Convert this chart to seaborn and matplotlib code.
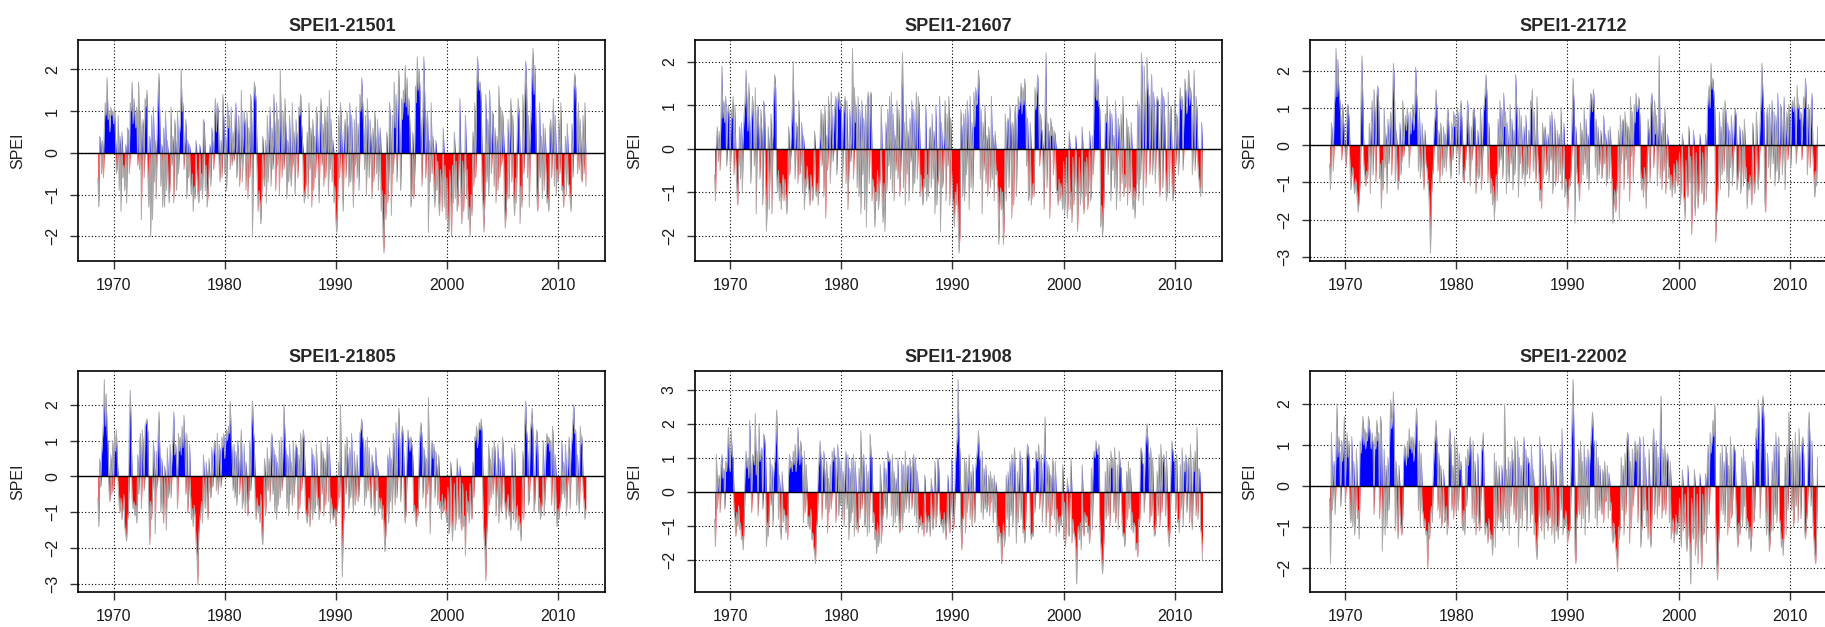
import numpy as np
import matplotlib
matplotlib.use('Agg')
import matplotlib.pyplot as plt
from matplotlib.ticker import MultipleLocator
import seaborn as sns

sns.set_theme(style='white')
plt.rcParams['font.family'] = ['Liberation Sans', 'DejaVu Sans']

# monthly SPEI-1 values (x10), Aug 1968 - Jul 2012
titles = ['SPEI1-21501', 'SPEI1-21607', 'SPEI1-21712',
          'SPEI1-21805', 'SPEI1-21908', 'SPEI1-22002']
start_year = 1968
start_month = 8

spei_21501 = [
    -6, -13, 4, 3, -5,
    3, -6, 6, 12, 9, 18, 8, 10, 5, 11, 9, 10,
    7, 11, 4, -5, -3, 9, -9, 4, -14, 5, -6, -3,
    -9, 2, -12, 6, 5, -5, 12, 10, 17, 7, 13, 9,
    6, 11, -3, 17, -4, 10, -16, 6, 8, -6, 13, 11,
    15, -5, -13, 4, -20, 9, -16, 11, -7, 3, -11, 5,
    14, 19, 7, -8, 2, -13, 6, -13, 10, -9, 3, -8,
    -12, -7, 11, -3, 4, -12, 8, 3, -9, 10, -5, 4,
    7, 20, 10, 12, -4, 3, 8, -11, 3, -6, 2, -7,
    -10, -5, -14, -8, -11, 3, -6, -10, -12, 2, -9, -5,
    -11, 8, 7, -9, -3, -13, -10, -4, 2, -8, 6, 3,
    -4, 9, 13, 5, 12, 10, -3, -7, 3, -6, 14, 8,
    -5, 4, -9, 12, 6, 9, -4, 11, -3, 5, -2, 8,
    12, -6, 5, 9, -8, -3, 15, -7, 4, 10, 7, -9,
    10, -11, 6, -6, 14, 9, -20, 11, 17, 15, 12, -5,
    -14, -9, -12, -17, -10, 4, -6, -8, 3, -12, 9, -7,
    5, 11, -8, 6, -4, 14, 7, -9, 12, -3, 8, -10,
    20, 5, -6, 10, -4, 13, 6, -11, 3, -7, 9, -5,
    -8, 12, -3, 5, -10, 8, 4, -6, 11, 9, 14, 7,
    3, -8, -12, -9, -7, 5, -11, 12, -4, 6, -13, 8,
    -9, 4, -6, 11, 8, -5, -12, 9, 13, -3, 7, -8,
    10, -6, 7, 11, -10, 15, -4, 8, -7, 3, -12, -8,
    -16, -19, -11, 9, -6, 12, 7, -9, -14, 5, 8, -6,
    10, 6, -8, 12, -7, 9, -5, -13, 8, -3, 11, -6,
    7, -9, 14, 10, 18, 12, 6, -4, 9, -10, 13, 5,
    -6, 8, 3, -11, 6, -7, 10, 4, -5, 8, -9, 3,
    6, -14, -9, -20, -24, -10, -16, 5, -12, -8, 12, 7,
    -15, 9, -5, 17, 6, 14, -7, 11, 20, 6, -9, 13,
    8, 15, 12, 21, 11, 18, 9, 13, 6, -13, -10, 5,
    -11, -7, 16, 12, 23, 15, 20, 14, 5, -8, 9, 23,
    14, -6, 7, 10, -19, 3, -7, 12, -5, 4, -8, -13,
    3, -9, -2, -12, -15, -4, -8, -14, 6, -13, -3, -16,
    -6, -17, -19, -4, -11, -20, -3, -12, 5, -11, -2, -14,
    -12, -3, 13, -10, -17, -2, -14, -6, 9, -11, -4, -16,
    -13, -20, -10, -15, 5, -8, 12, -6, 14, 23, 18, 15,
    17, 12, -9, -13, -19, -11, 14, -7, 8, -10, 15, 6,
    -5, 10, 9, -8, 6, -12, 4, -9, 16, -6, 11, -3,
    10, 6, -12, -18, -14, -9, 8, -11, 5, 13, -7, 9,
    -10, -15, -6, -12, 6, 13, 9, -17, -8, -13, 14, -5,
    13, 22, 17, -6, 9, -13, 4, 11, 20, 25, 14, 21,
    8, -10, -14, -7, 12, -6, 4, -11, 7, -9, 6, -5,
    -12, -11, -14, 6, 8, -6, 5, 13, -8, 9, -10, -4,
    -7, 8, -5, 12, -9, -8, -13, -6, 4, -10, 7, -7,
    -8, -11, -14, 7, -6, 15, 19, 16, 11, -5, 12, -4,
    8, -6, -7, 9, -5, 12, -8,
]

spei_21607 = [
    -6, -12, 2, 5, -3,
    4, -5, 8, 19, 7, 11, 6, 12, -4, 8, 10, 6,
    -5, 9, 7, 12, -6, 10, -3, -9, -13, -4, 5, -7,
    6, -10, 3, 8, 11, 18, 10, 4, 15, 6, -8, 7,
    12, 6, -4, 14, -15, 8, 10, 3, -7, 9, 4, -13,
    11, 9, -6, -19, -11, 5, -14, -4, 8, -15, 3, 12,
    17, 14, -6, -10, -5, -12, -8, -14, -9, -6, -12, -7,
    -11, -15, -9, 5, -6, -3, 4, 10, 20, 3, -7, 6,
    5, -8, 11, -6, -4, 6, -10, 3, -14, -7, -9, -4,
    -8, -10, -13, -6, -9, -12, -7, 4, -10, -11, -8, -13,
    -6, 3, 9, -4, 8, -11, 10, -16, 3, -5, 12, 6,
    -8, 13, 5, -3, 7, 10, 12, -6, 11, 13, 9, 11,
    8, -9, 7, 10, 12, -8, 11, -14, -6, 9, -3, 5,
    23, -7, 14, 6, 10, -9, 12, -11, 9, -15, 11, -6,
    7, -14, 10, -18, 11, 13, -8, 12, 13, -12, -7, -9,
    -18, -10, -12, -5, -14, -9, -6, 10, -12, -17, -8, -19,
    6, -10, 9, -4, 12, -7, 13, -10, 8, -12, 3, -5,
    11, -7, 9, -11, -5, 14, 22, -9, 6, -13, 10, -6,
    4, -12, 7, -3, 11, -10, 9, -8, 5, 13, -7, 12,
    9, -11, -6, -10, -13, -7, -9, 10, -12, -6, -11, 4,
    5, -9, 8, -7, 4, -15, 10, -13, -8, -6, 12, -19,
    6, -9, -7, 3, 11, -12, 8, -4, 12, -13, 7, -5,
    -11, -14, -18, -10, -13, -8, -16, -24, -20, 9, 5, -11,
    8, -12, 9, -6, 11, 5, -14, 12, -9, 6, -10, 13,
    5, 14, 10, 11, 18, 14, -7, 9, -15, 6, -5, 10,
    -8, 3, -11, 5, -4, -9, 12, -7, 3, -12, 4, -6,
    -5, -10, -22, -13, -9, -14, -10, -22, -15, 8, -12, 6,
    7, -9, 10, 5, -16, 6, -13, 8, 10, -11, 6, 12,
    9, 11, 15, 8, 14, 10, 16, 9, -4, 7, -12, -10,
    6, -13, -10, -8, -11, 14, 9, 13, 17, 10, -4, 8,
    5, 3, -6, -14, 10, 22, -9, 6, 4, -16, 7, 3,
    5, -6, 4, 3, -9, -10, -13, -7, -12, -8, -11, -14,
    -3, -15, -9, -2, -16, -11, 4, -14, -10, -17, -2, -13,
    -8, 3, -6, -19, -11, -2, -13, -9, 5, -12, -15, -3,
    -11, -2, -14, -9, 4, -12, -10, 3, -6, 14, 22, 12,
    11, 16, 10, 9, -18, -13, -20, -15, -9, 8, 6, 12,
    -6, 5, 9, -12, 8, -5, 3, -9, 11, -14, -4, 7,
    4, -12, 8, -8, 12, -11, -6, -9, 7, -13, 5, -8,
    -10, 6, -11, -14, -9, -16, -10, -8, 11, -12, 10, -7,
    22, 15, -13, 19, 8, -9, 21, 14, 12, -6, 9, 17,
    -6, 13, 9, -8, 10, 12, 11, -7, -11, 9, 14, -9,
    12, 8, -4, -12, -9, 13, -10, 8, 10, -8, -12, -10,
    11, -4, 8, 5, -6, 10, 14, 9, 12, -5, 8, 16,
    13, 8, 12, 18, 10, 14, 11, -6, 9, 18, -5, 12,
    9, -4, -7, -9, -11, 6, -10,
]

spei_21712 = [
    -5, -12, 6, 3, -7,
    9, 14, 26, 13, 23, 15, 12, 8, -4, 11, 7, 3,
    -3, -6, 10, 11, 7, -5, -12, -8, -6, -10, -13, -9,
    -11, -15, -18, -14, -10, 12, 24, 11, -5, -8, -11, -7,
    -9, -4, 6, -13, 5, 12, -8, 15, 9, -10, 13, 16,
    12, -9, -5, -17, -4, -12, 10, -6, 3, -13, 7, -5,
    5, 9, -8, 11, 22, 16, -10, 4, -7, -12, -9, 6,
    -8, -4, 12, -3, 5, 8, 4, 10, 6, -6, 9, 3,
    7, 11, 4, 9, 21, 14, 8, -7, 10, -9, -4, 6,
    -8, -12, 4, -5, -6, -9, -12, -18, -29, -14, -9, -6,
    5, 8, 15, 9, -7, 4, -10, 6, -3, -8, 5, -6,
    3, -7, 7, 10, 4, -5, -9, 6, -4, 9, 5, 8,
    -3, 10, 7, -8, 9, 12, 6, -9, -10, -7, -4, 3,
    12, 8, -6, -11, 5, -4, 9, 10, 7, -13, -8, 4,
    -9, -6, 10, -12, -5, 8, 11, 14, 19, 13, -10, 6,
    -8, -13, -9, -16, -11, -20, -12, -8, -15, 7, -6, 12,
    -4, 10, -9, 14, 5, 9, -13, 6, -6, -10, 11, -5,
    7, -12, 4, -8, 19, 11, 6, -14, 10, -5, 8, -9,
    -7, 5, -11, 8, -8, -6, 4, -9, 12, 10, 15, -7,
    9, -6, -10, 13, -4, -8, -15, -12, -17, 6, -9, 4,
    5, -8, -6, 3, -10, 8, -4, 9, -13, -5, 7, -11,
    -6, 4, -10, 3, -8, 10, -12, -5, 6, -14, -9, -11,
    -18, -13, -9, -11, -6, 8, 18, 11, -21, 5, -7, -10,
    -11, -15, 6, -10, 4, -8, 10, -5, 7, -9, 3, -12,
    8, 14, 13, 9, 15, 11, -6, 7, -10, 5, -8, -4,
    4, -9, -6, 8, -5, 3, -11, -7, 4, -9, 5, -6,
    -10, -21, -16, -12, -18, -13, -9, 4, -20, 8, -5, 6,
    7, -12, 9, -4, 6, -9, 5, -15, 13, -3, 9, -10,
    11, 6, 14, 9, 10, 13, 8, -7, -12, -9, -14, -6,
    -10, -17, -5, 7, 4, -10, 11, 14, 9, -6, 12, 3,
    8, -11, 5, 24, -9, 4, -12, 6, -7, 10, -13, -5,
    3, -9, -6, -12, -8, -14, -10, -5, -13, -9, -4, -11,
    -7, -2, -16, -8, 3, -13, -15, -20, -4, -12, -14, 5,
    -10, -3, -24, -12, 4, -15, -19, -2, -13, -17, -11, 3,
    -8, -13, -2, -16, -12, 3, -15, 9, 13, 16, 10, 22,
    15, 18, 14, 10, -26, -19, -14, -10, 9, -12, 5, -8,
    10, -7, 12, 9, -10, 6, -14, 4, -6, 8, -11, -4,
    6, 10, 8, -12, -9, -7, 5, -13, -8, 4, -11, 7,
    -9, -6, -17, -10, -12, -8, -11, -16, 6, -10, -13, -7,
    9, -8, -12, -5, 6, 12, 22, 14, 9, -15, -18, 8,
    10, -6, 11, -9, 7, 12, -5, 9, -11, 8, -7, 14,
    -10, -6, 11, 9, -8, 7, 13, -12, 5, 9, -4, 11,
    8, -6, 10, 12, 9, 13, 6, -5, 16, 10, 11, 7,
    9, -4, 6, 13, 10, 18, 12, -8, 11, 9, -6, 10,
    14, -3, -8, -14, -7, -11, 5,
]

spei_21805 = [
    -6, -14, 5, -3, 6,
    10, 15, 27, 14, 23, 12, 9, -4, -7, 6, -5, 10,
    -4, 12, 7, 13, 5, -3, -8, -10, -6, -12, -9, -5,
    -14, -16, -18, -12, -10, 14, 24, 13, -6, -9, -7, -11,
    -8, -13, 6, -5, 9, 12, -9, 13, 8, -4, 14, 15,
    16, 12, -8, -19, -7, -12, -5, 10, 4, -16, 7, -3,
    11, 18, 6, -10, 5, -8, -13, 3, -7, -15, 8, -6,
    -4, 9, -6, 5, 10, 18, 6, 9, 4, -9, 12, 7,
    11, 6, 14, 8, 17, 10, -5, 12, -10, -6, 9, -4,
    -12, -9, -14, -8, -11, -18, -22, -30, -16, -12, -10, -7,
    -13, 6, -5, -9, 4, -8, -12, 5, -4, -6, 8, -3,
    6, 10, 8, -4, 12, -5, 9, 7, -3, 11, 8, 12,
    5, 9, 13, 10, 14, 12, 21, 11, 6, -4, 9, -6,
    7, -8, 10, 5, -5, 8, 13, -9, -6, 9, -10, 4,
    -7, -11, -6, 10, -4, 14, 21, 13, 9, -9, -12, -6,
    -10, -8, -13, -5, -16, -19, -9, 5, -11, -6, 8, -4,
    5, -7, 9, 12, -5, 8, -10, 6, -12, 4, -8, 10,
    -6, 11, -4, 8, 20, 12, 7, -9, 6, -11, 9, -5,
    4, -8, 10, -6, 7, 9, 8, -12, 6, -9, 12, -4,
    10, 13, 9, -8, -11, -13, -10, -6, -14, -9, 8, -12,
    6, -10, -7, 9, -8, -6, -12, -9, 10, -5, 7, -11,
    5, -8, 6, 11, -7, 9, -13, -6, -9, -12, -11, -9,
    -14, -10, -8, 4, -6, 20, -12, -28, -15, -10, 9, -5,
    11, 5, -9, 8, -6, 12, -5, -10, 7, -8, -4, 6,
    -7, -5, 12, 13, 16, 11, 9, -8, 10, -6, 11, -4,
    8, -5, -9, 6, 4, -7, -11, 8, -4, 3, -10, -6,
    -9, -6, -12, -8, -14, -21, -16, -10, 6, -13, 8, -7,
    5, -10, 12, 9, -8, 15, -6, 11, 19, 10, -7, 12,
    14, 9, -10, -13, -9, 8, 13, 10, 7, 11, 9, 6,
    -10, -8, -12, -14, -9, -11, 7, 12, 15, 11, -6, 8,
    6, -9, 5, -5, 22, -4, -16, 8, 10, 5, 9, -6,
    7, 3, -8, 6, -9, -7, -12, -5, -10, -9, -6, -11,
    -13, -3, -16, -14, 4, -12, -18, -8, -2, -15, -11, 5,
    -10, -12, 3, -13, -15, -2, -14, -11, -22, -4, -10, -7,
    -13, -2, -10, -12, 4, -6, 11, 10, 14, 8, 12, 15,
    13, 16, 12, -9, -17, -20, -29, -16, -11, 9, -8, 5,
    -6, 8, -5, 10, 7, -11, -4, 9, -13, 5, -8, -10,
    11, 7, -6, -9, -12, -7, -5, -11, -10, -15, 8, -6,
    -12, 9, -13, -10, -8, -15, -11, -14, -18, -9, 7, -12,
    14, 21, 13, 9, -8, -6, 12, 15, 19, 11, -10, -7,
    8, 13, 9, -10, -6, -12, -9, -7, 10, -11, -5, 8,
    12, 9, 11, 7, 10, -8, 14, 9, -11, 6, -9, -14,
    -9, -12, -8, -7, 10, -5, 4, -6, 9, -11, -4, 6,
    11, -9, 7, 10, 15, 20, 12, 13, -8, 6, -6, -10,
    14, 9, 11, -4, -7, -12, -9,
]

spei_21908 = [
    -8, -16, 11, -5, 3,
    5, -6, 8, 11, 4, 7, -5, 9, 6, 12, 19, 8,
    6, 18, 11, 10, -5, -8, -13, -6, -10, -4, -11, -9,
    -14, -13, -17, -9, 6, 12, 7, 10, 4, 21, 9, -6,
    11, 10, 8, 23, 5, 12, -7, 20, 9, 11, 13, -5,
    17, 16, 12, -16, -9, -13, -6, 10, -4, 8, -10, 6,
    9, 14, 24, 13, -8, 5, -11, -14, 6, -9, -5, -7,
    -12, -7, -14, 5, 11, 7, 9, 6, 12, 8, 14, 6,
    10, 19, 12, 8, 15, 11, 7, -9, 12, -6, 8, -4,
    -10, -7, -11, -5, -14, -12, -16, -18, -21, -11, -8, 6,
    10, 15, 9, -8, 7, 12, 6, -5, 9, -12, 4, -6,
    8, -5, 12, 9, 13, 10, -9, 6, 14, -7, 10, -4,
    9, -8, 6, -10, 8, 12, -5, 11, -14, 7, -9, 10,
    -6, 11, -13, 9, -11, -9, -12, 7, -8, 18, -5, 9,
    11, -10, -8, 8, -13, 6, -12, 17, 11, 10, -9, -6,
    -14, -11, -18, -9, -16, -12, 8, -15, -10, -6, 9, -5,
    7, -8, 12, 9, 10, 8, -7, 11, -10, 6, -9, 4,
    -7, 10, -8, -12, -9, 9, -11, 8, -6, 12, -5, 7,
    8, -6, 10, 7, -5, 9, 11, -7, 10, -9, 6, -12,
    -8, -10, -7, -11, -9, -13, 5, -6, -12, -9, -7, -10,
    -13, 4, -8, -11, -6, 9, -10, -7, 10, 8, -5, -9,
    -10, -8, -12, -6, -11, -14, -7, 5, -9, -12, -6, 10,
    -5, -11, -8, 7, 12, 16, 33, 17, 11, -10, -17, -8,
    -7, 10, -12, 9, -6, 5, 11, -8, 6, -10, 8, -5,
    -9, 7, 10, 13, 18, 11, 9, -6, 12, -8, 7, -5,
    8, -6, -4, 5, -7, 6, -3, 4, -9, 5, -6, 3,
    -11, -15, -10, -13, -12, -21, -14, -9, -16, -12, 5, -8,
    6, -13, 9, -7, 11, -10, 8, 13, -5, -15, 6, -9,
    7, 12, -8, 10, -12, -11, -15, -9, 10, 14, 12, 9,
    -11, -14, -12, -13, 7, -6, 12, 10, 9, 14, -5, 8,
    11, -9, 6, 12, 22, -10, 9, -6, 8, -12, 5, -7,
    10, 6, -8, 9, -13, -5, -9, -12, -7, -10, -6, 8,
    -14, -3, -16, -8, 4, -12, -13, -2, 10, -15, -8, -12,
    -13, -16, -27, -12, -10, -14, -9, -17, 8, -11, -13, -6,
    -9, -7, -12, -10, -15, -8, 7, -11, 9, 12, 10, 15,
    12, 11, 14, -9, -15, -20, -24, -17, -11, 6, -8, 10,
    -7, 9, -10, 12, 7, 10, -6, 13, -9, -5, 8, -11,
    12, 8, 7, -9, -13, -12, -16, -10, 6, -8, 9, -5,
    7, -11, -6, -12, -9, -10, -17, -15, -19, -8, -10, 12,
    13, 9, 8, -6, 11, 16, 20, 15, 11, -9, 13, -7,
    10, -9, -13, -12, -8, 6, -7, 11, -10, 14, -6, 9,
    11, 8, -7, 12, -9, -13, -16, -10, 8, 15, 12, 9,
    10, -6, 11, -9, -8, -12, 8, -5, 13, -10, 9, 6,
    11, -6, 8, 10, -9, 14, -8, -11, 10, 6, 12, -7,
    19, -8, 7, 6, -11, -13, -20,
]

spei_22002 = [
    -3, -19, 13, -6, 4,
    6, -7, 9, 20, 7, 12, 8, -5, 11, 6, 10, 17,
    -4, 8, 13, 7, 11, -6, -9, 12, -10, 6, -12, -7,
    9, -8, -6, -13, 11, 8, 12, 17, 10, 14, 9, 13,
    11, 17, 15, 12, 9, 13, 10, -7, 12, 9, 16, 11,
    13, -8, 17, 14, -16, -4, 9, -12, 5, -10, 7, -6,
    12, 21, 14, 17, 23, 10, -11, 6, -9, -13, 5, -7,
    -10, -12, -8, 6, 10, 8, 5, 11, 7, 14, 9, 12,
    8, 12, 6, 10, 15, 19, 9, -6, 11, -10, 8, -5,
    -7, -10, -8, -12, -11, -20, -9, -13, -7, -5, -9, 3,
    9, 12, 16, 10, -6, 8, -8, 5, -10, -7, 4, -9,
    -8, -5, -12, -9, 11, 14, 9, -6, 5, -8, 12, -4,
    -7, 10, -6, 8, 4, 6, -9, -11, -6, -12, 7, -5,
    9, 5, 10, 12, 7, -8, 11, -9, 6, -12, -7, 8,
    -9, -11, -6, 8, 10, 13, -7, -12, -9, -10, -14, -8,
    -11, -13, -12, -17, -9, 8, -15, 6, -10, -7, 5, -8,
    -9, 5, -11, -6, 20, -8, 4, -10, 7, -12, 6, -5,
    9, 6, -7, 12, -9, -6, 11, -15, 7, -8, 5, -10,
    8, 12, -6, 9, -11, 7, 6, 5, -9, 10, -7, 4,
    -12, -9, -15, -18, -10, -7, 12, -8, -11, 9, -6, -13,
    5, -9, -7, -11, -6, -8, 10, -12, 6, -9, -14, 8,
    -11, -10, -13, -7, 9, -6, 14, -12, -8, -10, -6, -9,
    -14, -11, -12, -9, 8, 17, 26, 12, -16, -19, -8, -6,
    9, -7, 11, -10, 6, -8, 10, -12, 7, -5, 9, -9,
    6, 10, 14, 18, 12, 9, -8, 11, -10, 7, -6, 5,
    -5, -7, 4, -9, 6, -4, -3, 5, -8, 3, -6, -4,
    -11, -14, -9, -12, -15, -17, -21, -10, -13, -8, 7, -6,
    5, -12, 8, -7, 11, 13, 9, -14, 6, -10, 9, -5,
    8, 11, 6, 10, -9, 9, 12, -15, -11, -8, 12, -6,
    7, -10, -6, -13, 9, -12, -15, -9, 10, 14, -7, 9,
    11, -8, 7, -5, 13, 22, -8, 9, -6, 10, -7, 6,
    8, 5, -9, 6, -13, -10, -8, -14, -11, -7, -12, -9,
    -10, -3, -12, -15, 4, -11, -8, -2, -13, -16, 5, -12,
    -14, -24, -3, -11, -13, 4, -17, -12, -2, -19, -10, 3,
    -15, -20, -2, -12, -10, 3, -14, 6, 10, -7, 13, 8,
    11, 16, 12, 20, -9, -19, -23, -15, -10, 8, -6, 10,
    -7, 6, -9, 10, 8, -12, 5, -10, 12, -8, -6, 9,
    10, 8, -6, -11, -15, -9, -12, -8, 7, -10, 9, -5,
    6, -11, -8, -9, -13, -10, -16, -12, 6, -9, -7, 11,
    14, 9, 21, 16, -8, 12, 19, 22, 17, 10, -6, -12,
    8, -10, -16, -13, -9, 6, -11, 10, -7, 13, -9, 8,
    12, -8, -10, -15, -13, -17, -9, 7, -12, 10, -6, 18,
    9, 7, -6, 11, -10, -7, 13, -5, 10, -9, 14, 6,
    -8, 10, 12, 8, -11, -13, -9, -6, 14, 18, 9, -5,
    11, -9, -13, -17, -19, -12, 7,
]

series = [spei_21501, spei_21607, spei_21712,
          spei_21805, spei_21908, spei_22002]

fig = plt.figure(figsize=(18.25, 6.27), dpi=100)
W, H = 1825, 627
col_left = [78.3, 695, 1310]
row_top = [40.3, 371.3]
ax_w, ax_h = 527, 221

for k, (title, vals) in enumerate(zip(titles, series)):
    r, c = divmod(k, 3)
    ax = fig.add_axes([col_left[c] / W, 1 - (row_top[r] + ax_h) / H,
                       ax_w / W, ax_h / H])
    v = np.array(vals, dtype=float) / 10
    t = start_year + (start_month - 1) / 12 + np.arange(len(v)) / 12
    pos = np.where(v > 0, v, 0)
    neg = np.where(v <= 0, v, 0)

    # coloured areas first, grey series line on top (as in the SPEI plot)
    ax.fill_between(t, 0, pos, color='blue', linewidth=0, zorder=2)
    ax.fill_between(t, 0, neg, color='red', linewidth=0, zorder=2)
    sns.lineplot(x=t, y=v, ax=ax, color='#a9a9a9', linewidth=0.65,
                 zorder=3, legend=False)
    ax.axhline(0, color='black', linewidth=1.0, zorder=4)

    ax.margins(x=0.04, y=0.04)
    ax.xaxis.set_major_locator(MultipleLocator(10))
    ax.yaxis.set_major_locator(MultipleLocator(1))
    ax.grid(True, color='black', linestyle=(0, (1, 2)), linewidth=0.8)
    ax.set_axisbelow(True)

    for s in ax.spines.values():
        s.set_color('black')
        s.set_linewidth(1.2)
    ax.tick_params(axis='both', which='major', direction='out', length=6,
                   width=1, color='#333333', labelsize=11.5,
                   labelcolor='#1a1a1a', bottom=True, left=True)
    ax.tick_params(axis='x', pad=6)
    ax.tick_params(axis='y', pad=7, labelrotation=90)
    for lbl in ax.get_yticklabels():
        lbl.set_va('center')

    ax.set_xlabel('')
    ax.set_ylabel('SPEI', fontsize=11.5, color='#222222')
    ax.yaxis.set_label_coords(-0.10, 0.5)
    ax.set_title(title, fontsize=13, fontweight='bold', pad=7)

fig.savefig('out.png', dpi=100)
